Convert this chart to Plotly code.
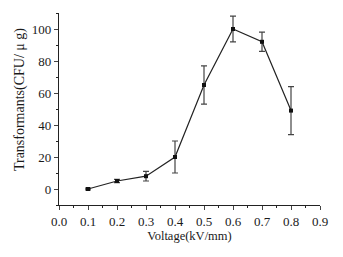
import plotly.graph_objects as go

voltage = [0.1, 0.2, 0.3, 0.4, 0.5, 0.6, 0.7, 0.8]
transformants = [0, 5, 8, 20, 65, 100, 92, 49]
errors = [0.5, 1, 3, 10, 12, 8, 6, 15]
x_ticks = [0.0, 0.1, 0.2, 0.3, 0.4, 0.5, 0.6, 0.7, 0.8, 0.9]
x_labels = ["0.0", "0.1", "0.2", "0.3", "0.4", "0.5", "0.6", "0.7", "0.8", "0.9"]
y_ticks = [0, 20, 40, 60, 80, 100]
x_title = "Voltage(kV/mm)"
y_title = "Transformants(CFU/ μ g)"

fig = go.Figure(go.Scatter(
    x=voltage, y=transformants, mode="lines+markers",
    line=dict(color="#222222", width=1.2),
    marker=dict(symbol="square", size=4, color="#111111"),
    error_y=dict(type="data", array=errors, visible=True, color="#444444", thickness=1.2, width=3),
))

# page body has an 8px default margin, so the figure is sized to fill the rest of the window
font = dict(family="Liberation Serif", size=13, color="#1a1a1a")
fig.update_layout(
    width=335, height=249,
    margin=dict(l=51, r=23, t=5, b=52),
    paper_bgcolor="white", plot_bgcolor="white",
    showlegend=False, font=font,
    xaxis=dict(range=[0, 0.9], tickvals=x_ticks, ticktext=x_labels, ticks="outside", ticklen=4,
               showline=True, linecolor="#222222", linewidth=1.2, showgrid=False, zeroline=False,
               minor=dict(dtick=0.05, ticks="outside", ticklen=2, tickcolor="#222222"),
               automargin=False,
               title=dict(text=x_title, standoff=3, font=dict(family="Liberation Serif", size=12.5, color="#1a1a1a")),
               tickfont=font),
    yaxis=dict(range=[-10, 110], tickvals=y_ticks, ticks="outside", ticklen=4,
               showline=True, linecolor="#222222", linewidth=1.2, showgrid=False, zeroline=False,
               minor=dict(dtick=10, ticks="outside", ticklen=2, tickcolor="#222222"),
               automargin=False, tickfont=font),
    annotations=[dict(text=y_title, textangle=-90, xref="paper", yref="paper",
                      x=-0.149, y=0.547, xanchor="center", yanchor="middle", showarrow=False,
                      font=dict(family="Liberation Serif", size=14, color="#1a1a1a"))],
)
fig.write_html("out.html")
